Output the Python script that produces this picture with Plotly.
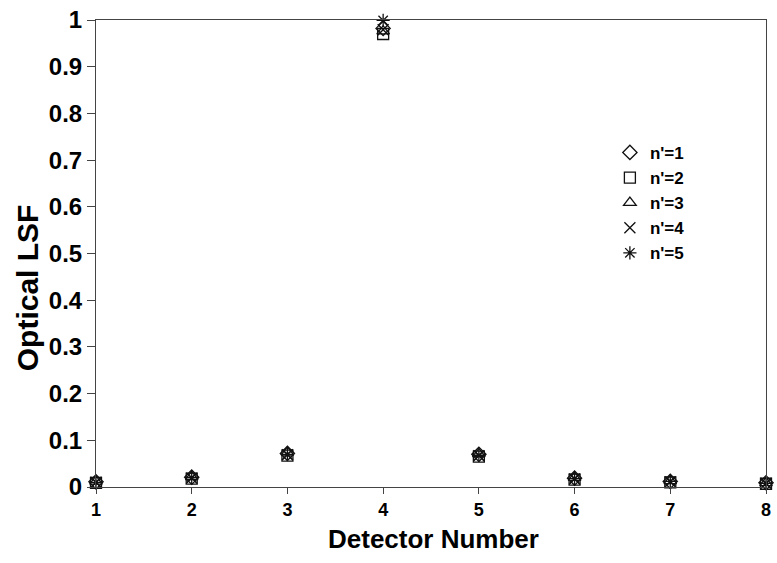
import plotly.graph_objects as go

detectors = [1, 2, 3, 4, 5, 6, 7, 8]

# Optical line spread function per detector, one list per n'
lsf_n1 = [0.011, 0.021, 0.072, 0.982, 0.070, 0.019, 0.012, 0.009]
lsf_n2 = [0.009, 0.018, 0.067, 0.970, 0.065, 0.016, 0.010, 0.007]
lsf_n3 = [0.012, 0.022, 0.074, 0.976, 0.071, 0.020, 0.013, 0.009]
lsf_n4 = [0.010, 0.019, 0.069, 0.979, 0.067, 0.017, 0.011, 0.008]
lsf_n5 = [0.010, 0.020, 0.070, 0.999, 0.068, 0.018, 0.012, 0.008]

series_names = ["n'=1", "n'=2", "n'=3", "n'=4", "n'=5"]
series_values = [lsf_n1, lsf_n2, lsf_n3, lsf_n4, lsf_n5]
symbols = ["diamond-open", "square-open", "triangle-up-open", "x-thin-open", "asterisk-open"]

y_ticks = [0, 0.1, 0.2, 0.3, 0.4, 0.5, 0.6, 0.7, 0.8, 0.9, 1]
y_tick_text = ["0", "0.1", "0.2", "0.3", "0.4", "0.5", "0.6", "0.7", "0.8", "0.9", "1"]

FONT = "Liberation Sans, Arial, sans-serif"

fig = go.Figure()
for name, vals, sym in zip(series_names, series_values, symbols):
    fig.add_trace(go.Scatter(
        x=detectors, y=vals, mode="markers", name=name,
        cliponaxis=False,
        marker=dict(symbol=sym, size=11, color="#111111",
                    line=dict(color="#111111", width=1.3)),
    ))

# Axis titles placed as paper-anchored annotations
fig.add_annotation(text="<b>Optical LSF</b>", textangle=-90,
                   xref="paper", yref="paper", x=-0.102, y=0.427,
                   xanchor="center", yanchor="middle", showarrow=False,
                   font=dict(family=FONT, size=30, color="black"))
fig.add_annotation(text="<b>Detector Number</b>",
                   xref="paper", yref="paper", x=0.504, y=-0.111,
                   xanchor="center", yanchor="middle", showarrow=False,
                   font=dict(family=FONT, size=26, color="black"))

fig.update_layout(
    width=777, height=563,
    margin=dict(l=96, r=6, t=19, b=76),
    paper_bgcolor="white", plot_bgcolor="white",
    font=dict(family=FONT, color="black"),
    showlegend=True,
    legend=dict(
        x=0.767, y=0.754, xanchor="left", yanchor="top",
        bgcolor="rgba(0,0,0,0)",
        font=dict(family=FONT, size=17, color="black", weight="bold"),
        itemwidth=30, tracegroupgap=0,
    ),
    xaxis=dict(
        range=[1, 8], tickmode="array", tickvals=detectors,
        ticktext=[str(d) for d in detectors],
        showgrid=False, zeroline=False,
        showline=True, linecolor="#444444", linewidth=1, mirror=True,
        ticks="outside", ticklen=6, tickcolor="#444444",
        ticklabeloverflow="allow",
        tickfont=dict(family=FONT, size=18, weight="bold"),
    ),
    yaxis=dict(
        range=[0, 1], tickmode="array", tickvals=y_ticks, ticktext=y_tick_text,
        showgrid=False, zeroline=False,
        showline=True, linecolor="#444444", linewidth=1, mirror=True,
        ticks="outside", ticklen=8, tickcolor="#444444",
        tickfont=dict(family=FONT, size=24, weight="bold"),
    ),
)

fig.write_html("out.html")
